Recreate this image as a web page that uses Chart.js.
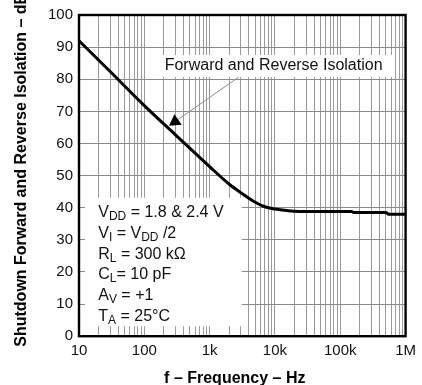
<!DOCTYPE html>
<html>
<head>
<meta charset="utf-8">
<script src="https://cdn.jsdelivr.net/npm/chart.js@4.4.1/dist/chart.umd.min.js"></script>
<style>
  html, body { margin: 0; padding: 0; background: #ffffff; }
  #wrap { width: 422px; height: 385px; }
</style>
</head>
<body>
<div id="wrap"><canvas id="c" width="422" height="385"></canvas></div>
<script>
// ---- data ----
const frequencies = [10, 30, 100, 300, 1000, 2000, 3000, 5000, 7000, 10000, 15000, 20000, 50000, 150000, 160000, 500000, 550000, 1000000];
const isolationDb = [92, 82.4, 71.8, 62.7, 52.8, 47.3, 44.7, 41.7, 40.3, 39.6, 39.1, 38.9, 38.8, 38.8, 38.5, 38.5, 38.0, 38.0];
const xTickValues = [10, 100, 1000, 10000, 100000, 1000000];
const xTickLabels = ['10', '100', '1k', '10k', '100k', '1M'];
const minorMultipliers = [2, 3, 4, 5, 6, 7, 8, 9];
const yTickValues = [0, 10, 20, 30, 40, 50, 60, 70, 80, 90, 100];
const xTitle = 'f \u2013 Frequency \u2013 Hz';
const yTitle = 'Shutdown Forward and Reverse Isolation \u2013 dB';
const calloutText = 'Forward and Reverse Isolation';
const conditionLines = [
  [['V', 0], ['DD', 1], [' = 1.8 & 2.4 V', 0]],
  [['V', 0], ['I', 1], [' = V', 0], ['DD', 1], [' /2', 0]],
  [['R', 0], ['L', 1], [' = 300 k\u03A9', 0]],
  [['C', 0], ['L', 1], ['= 10 pF', 0]],
  [['A', 0], ['V', 1], [' = +1', 0]],
  [['T', 0], ['A', 1], [' = 25\u00B0C', 0]]
];

const FONT = "'Liberation Sans', Arial, Helvetica, sans-serif";

const gridValues = [];
xTickValues.forEach((v, i) => {
  gridValues.push(v);
  if (i < xTickValues.length - 1) minorMultipliers.forEach(m => gridValues.push(v * m));
});

const overlayPlugin = {
  id: 'overlay',
  beforeDatasetsDraw(chart) {
    const {ctx, scales: {x, y}} = chart;
    ctx.save();
    // callout box
    const bx1 = x.getPixelForValue(117), bx2 = x.getPixelForValue(625000);
    const by1 = y.getPixelForValue(87.55), by2 = y.getPixelForValue(80.7);
    ctx.fillStyle = '#ffffff';
    ctx.fillRect(bx1, by1, bx2 - bx1, by2 - by1);
    ctx.fillStyle = '#111111';
    ctx.font = '16px ' + FONT;
    ctx.textBaseline = 'alphabetic';
    ctx.textAlign = 'left';
    ctx.fillText(calloutText, x.getPixelForValue(205), y.getPixelForValue(82.8));
    // arrow
    const tx = x.getPixelForValue(239), ty = y.getPixelForValue(65.5);
    const sx = x.getPixelForValue(2800), sy = y.getPixelForValue(80.7);
    const dx = tx - sx, dy = ty - sy, len = Math.hypot(dx, dy);
    const ux = dx / len, uy = dy / len;
    const hl = 11, hw = 6.4;
    ctx.strokeStyle = '#8c8c8c';
    ctx.lineWidth = 1;
    ctx.beginPath();
    ctx.moveTo(sx, sy);
    ctx.lineTo(tx - ux * hl, ty - uy * hl);
    ctx.stroke();
    ctx.fillStyle = '#000000';
    ctx.beginPath();
    ctx.moveTo(tx, ty);
    ctx.lineTo(tx - ux * hl - uy * hw, ty - uy * hl + ux * hw);
    ctx.lineTo(tx - ux * hl + uy * hw, ty - uy * hl - ux * hw);
    ctx.closePath();
    ctx.fill();
    // conditions box
    const cx1 = x.getPixelForValue(12.35), cx2 = x.getPixelForValue(3090);
    const cy1 = y.getPixelForValue(43.1), cy2 = y.getPixelForValue(3.1);
    ctx.fillStyle = '#ffffff';
    ctx.fillRect(cx1, cy1, cx2 - cx1, cy2 - cy1);
    ctx.fillStyle = '#111111';
    const tx0 = x.getPixelForValue(19.7);
    conditionLines.forEach((line, i) => {
      let px = tx0;
      const base = cy1 + 19.3 + i * 20.8;
      line.forEach(([txt, sub]) => {
        ctx.font = (sub ? '12px ' : '16px ') + FONT;
        ctx.fillText(txt, px, base + (sub ? 3 : 0));
        px += ctx.measureText(txt).width;
      });
    });
    ctx.restore();
  },
  afterDraw(chart) {
    const {ctx, chartArea: a} = chart;
    ctx.save();
    ctx.strokeStyle = '#000000';
    ctx.lineWidth = 2.4;
    ctx.strokeRect(a.left, a.top, a.right - a.left, a.bottom - a.top);
    // axis titles
    ctx.fillStyle = '#000000';
    ctx.font = 'bold 16px ' + FONT;
    ctx.textBaseline = 'alphabetic';
    ctx.textAlign = 'center';
    ctx.fillText(xTitle, (a.left + a.right) / 2 - 7.5, 383.3);
    ctx.translate(26, a.bottom + 10.5);
    ctx.rotate(-Math.PI / 2);
    ctx.textAlign = 'left';
    ctx.fillText(yTitle, 0, 0);
    ctx.restore();
  }
};

new Chart(document.getElementById('c'), {
  type: 'line',
  data: {
    datasets: [{
      data: frequencies.map((f, i) => ({x: f, y: isolationDb[i]})),
      borderColor: '#000000',
      borderWidth: 3,
      pointRadius: 0,
      fill: false,
      cubicInterpolationMode: 'monotone'
    }]
  },
  options: {
    responsive: false,
    devicePixelRatio: 1,
    animation: false,
    layout: { padding: { top: 8.5, right: 15.3, left: 0, bottom: 0 } },
    plugins: { legend: { display: false }, tooltip: { enabled: false } },
    scales: {
      x: {
        type: 'logarithmic',
        min: 10,
        max: 1000000,
        afterBuildTicks(scale) { scale.ticks = gridValues.map(v => ({value: v, major: xTickValues.includes(v)})); },
        afterFit(scale) { scale.height = 48.8; },
        ticks: {
          autoSkip: false,
          maxRotation: 0,
          padding: 6,
          color: '#111111',
          font: { family: FONT, size: 15 },
          callback(value) {
            const i = xTickValues.indexOf(value);
            return i >= 0 ? xTickLabels[i] : '';
          }
        },
        grid: { color: '#9a9a9a', lineWidth: 1, drawTicks: false },
        border: { display: false }
      },
      y: {
        type: 'linear',
        min: 0,
        max: 100,
        afterBuildTicks(scale) { scale.ticks = yTickValues.map(v => ({value: v})); },
        afterFit(scale) { scale.width = 79; },
        ticks: {
          padding: 6,
          color: '#111111',
          font: { family: FONT, size: 15 }
        },
        grid: { color: '#8a8a8a', lineWidth: 1, drawTicks: false },
        border: { display: false }
      }
    }
  },
  plugins: [overlayPlugin]
});
</script>
</body>
</html>
